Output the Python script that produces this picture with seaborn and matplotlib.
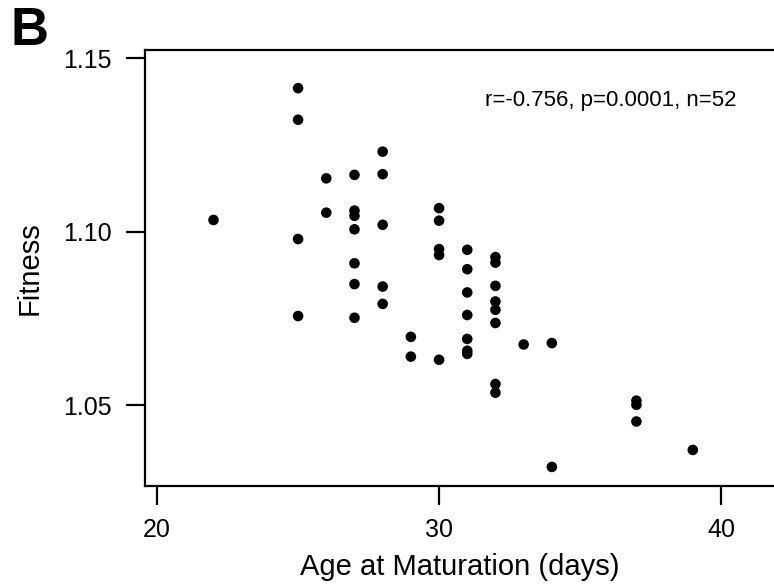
import matplotlib
matplotlib.use("Agg")
import matplotlib.pyplot as plt
import seaborn as sns
import pandas as pd

# Data
age_days = [22,
            25, 25, 25, 25,
            26, 26,
            27, 27, 27, 27, 27, 27, 27,
            28, 28, 28, 28, 28,
            29, 29,
            30, 30, 30, 30, 30,
            31, 31, 31, 31, 31, 31, 31,
            32, 32, 32, 32, 32, 32, 32, 32,
            33,
            34, 34,
            37, 37, 37,
            39]
fitness = [1.1034,
           1.1414, 1.1323, 1.0979, 1.0757,
           1.1154, 1.1055,
           1.1164, 1.1061, 1.1046, 1.1007, 1.0909, 1.0849, 1.0752,
           1.1231, 1.1166, 1.1020, 1.0842, 1.0792,
           1.0697, 1.0640,
           1.1068, 1.1032, 1.0950, 1.0933, 1.0631,
           1.0948, 1.0892, 1.0825, 1.0760, 1.0691, 1.0657, 1.0648,
           1.0927, 1.0911, 1.0844, 1.0799, 1.0775, 1.0737, 1.0561, 1.0536,
           1.0675,
           1.0679, 1.0322,
           1.0513, 1.0501, 1.0453,
           1.0371]
x_ticks = [20, 30, 40]
y_ticks = [1.05, 1.10, 1.15]
y_tick_labels = ["1.05", "1.10", "1.15"]
annotation = "r=-0.756, p=0.0001, n=52"

df = pd.DataFrame({"age": age_days, "fitness": fitness})

sns.set_style("ticks")
plt.rcParams["font.family"] = ["Liberation Sans", "DejaVu Sans"]
plt.rcParams["text.color"] = "black"
plt.rcParams["axes.labelcolor"] = "black"

fig = plt.figure(figsize=(7.74, 5.88), dpi=100)
ax = fig.add_axes([145 / 774, 102 / 588, (774 - 145) / 774, 436 / 588])

sns.scatterplot(data=df, x="age", y="fitness", ax=ax, color="black",
                s=58, edgecolor="none", linewidth=0)

ax.set_xlim(19.57, 41.88)
ax.set_ylim(1.0267, 1.1524)
ax.set_xticks(x_ticks)
ax.set_xticklabels([str(t) for t in x_ticks])
ax.set_yticks(y_ticks)
ax.set_yticklabels(y_tick_labels)

for side in ["left", "bottom", "top"]:
    ax.spines[side].set_visible(True)
    ax.spines[side].set_linewidth(1.6)
    ax.spines[side].set_color("black")
ax.spines["right"].set_visible(False)

ax.tick_params(axis="both", direction="out", length=14, width=1.6,
               color="black", labelsize=18, labelcolor="black")
ax.tick_params(axis="y", pad=10)
ax.tick_params(axis="x", pad=9)

ax.set_xlabel("Age at Maturation (days)", fontsize=21, labelpad=8,
              color="black")
ax.set_ylabel("Fitness", fontsize=21, labelpad=14, color="black")

ax.text(0.94, 0.885, annotation, transform=ax.transAxes, ha="right",
        va="center", fontsize=16, color="black")

fig.text(10 / 774, 1 - 6 / 588, "B", fontsize=38, fontweight="bold",
         ha="left", va="top", color="black")

fig.savefig("out.png", dpi=100)
